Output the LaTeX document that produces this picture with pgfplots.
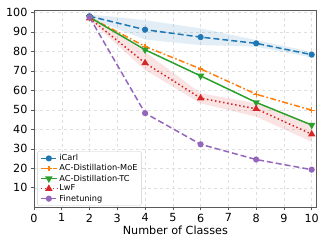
\documentclass[border=0pt]{standalone}
\usepackage{pgfplots}
\pgfplotsset{compat=1.18}
\usepgfplotslibrary{fillbetween}
\usepackage{fontspec}
\setmainfont{DejaVu Sans}
\definecolor{tblue}{HTML}{1F77B4}
\definecolor{torange}{HTML}{FF7F0E}
\definecolor{tgreen}{HTML}{2CA02C}
\definecolor{tred}{HTML}{D62728}
\definecolor{tpurple}{HTML}{9467BD}
\begin{document}
\begin{tikzpicture}
\path (0,0) rectangle (327pt,245pt);
\begin{axis}[
  at={(34pt,37.7pt)}, anchor=south west,
  scale only axis, width=282.7pt, height=197.3pt,
  xmin=0, xmax=10.18, ymin=0, ymax=101.2,
  xtick={0,1,...,10}, ytick={10,20,...,100},
  /pgf/number format/assume math mode=true,
  tick label style={font=\fontsize{11.2}{13}\selectfont},
  label style={font=\fontsize{11.2}{13}\selectfont},
  xlabel={Number of Classes},
  xlabel style={yshift=3pt},
  grid=major,
  grid style={dashed, gray!25, line width=0.5pt},
  axis line style={black!65, line width=0.8pt},
  tick align=outside, tick style={black!65, line width=0.6pt},
  major tick length=3pt,
  xtick pos=bottom, ytick pos=left,
  legend style={at={(0.011,0.008)}, anchor=south west,
    font=\fontsize{8.2}{9.6}\selectfont, draw=black!20, rounded corners=2pt,
    fill=white, row sep=-0.6pt,
    inner xsep=2.5pt, inner ysep=1.5pt,
    nodes={inner sep=1.5pt}},
  legend cell align=left,
  legend image code/.code={\draw[mark repeat=2,mark phase=2,#1] plot coordinates {(0pt,0pt) (8.3pt,0pt) (16.6pt,0pt)};},
]
% bands
\addplot[name path=iu, draw=none, forget plot] coordinates {(2,99) (4,96) (6,91.8) (8,85.8) (10,79.7)};
\addplot[name path=il, draw=none, forget plot] coordinates {(2,97) (4,86) (6,83.2) (8,82.4) (10,76.8)};
\addplot[tblue, fill opacity=0.13, draw=none, forget plot] fill between[of=iu and il];
\addplot[name path=lu, draw=none, forget plot] coordinates {(2,98) (4,79.8) (6,58.5) (8,53.3) (10,42.2)};
\addplot[name path=ll, draw=none, forget plot] coordinates {(2,96) (4,70.4) (6,53.3) (8,46.5) (10,33.6)};
\addplot[tred, fill opacity=0.13, draw=none, forget plot] fill between[of=lu and ll];

\addplot[tblue, line width=1.5pt, dash pattern=on 6pt off 3pt, mark=*, mark size=2.3pt, mark options={solid}]
  coordinates {(2,98) (4,91.1) (6,87.3) (8,84.1) (10,78.3)};
\addlegendentry{iCarl}
\addplot[torange, line width=1.5pt, dash pattern=on 6pt off 2.4pt on 1.6pt off 2.4pt, mark=+, mark size=2.8pt, mark options={solid, line width=1.3pt}]
  coordinates {(2,97.5) (4,82.5) (6,71) (8,58) (10,49.8)};
\addlegendentry{AC-Distillation-MoE}
\addplot[tgreen, line width=1.5pt, mark=triangle*, mark size=2.8pt, mark options={solid, rotate=180}]
  coordinates {(2,97.5) (4,80.8) (6,67.4) (8,53.8) (10,42.2)};
\addlegendentry{AC-Distillation-TC}
\addplot[tred, line width=1.5pt, dash pattern=on 1.5pt off 2.6pt, mark=triangle*, mark size=2.8pt, mark options={solid}]
  coordinates {(2,97) (4,74) (6,56) (8,50.5) (10,37.5)};
\addlegendentry{LwF}
\addplot[tpurple, line width=1.5pt, dash pattern=on 6pt off 3pt, mark=*, mark size=2.3pt, mark options={solid}]
  coordinates {(2,97.5) (4,48.3) (6,32.3) (8,24.5) (10,19.3)};
\addlegendentry{Finetuning}
\end{axis}
\end{tikzpicture}
\end{document}
